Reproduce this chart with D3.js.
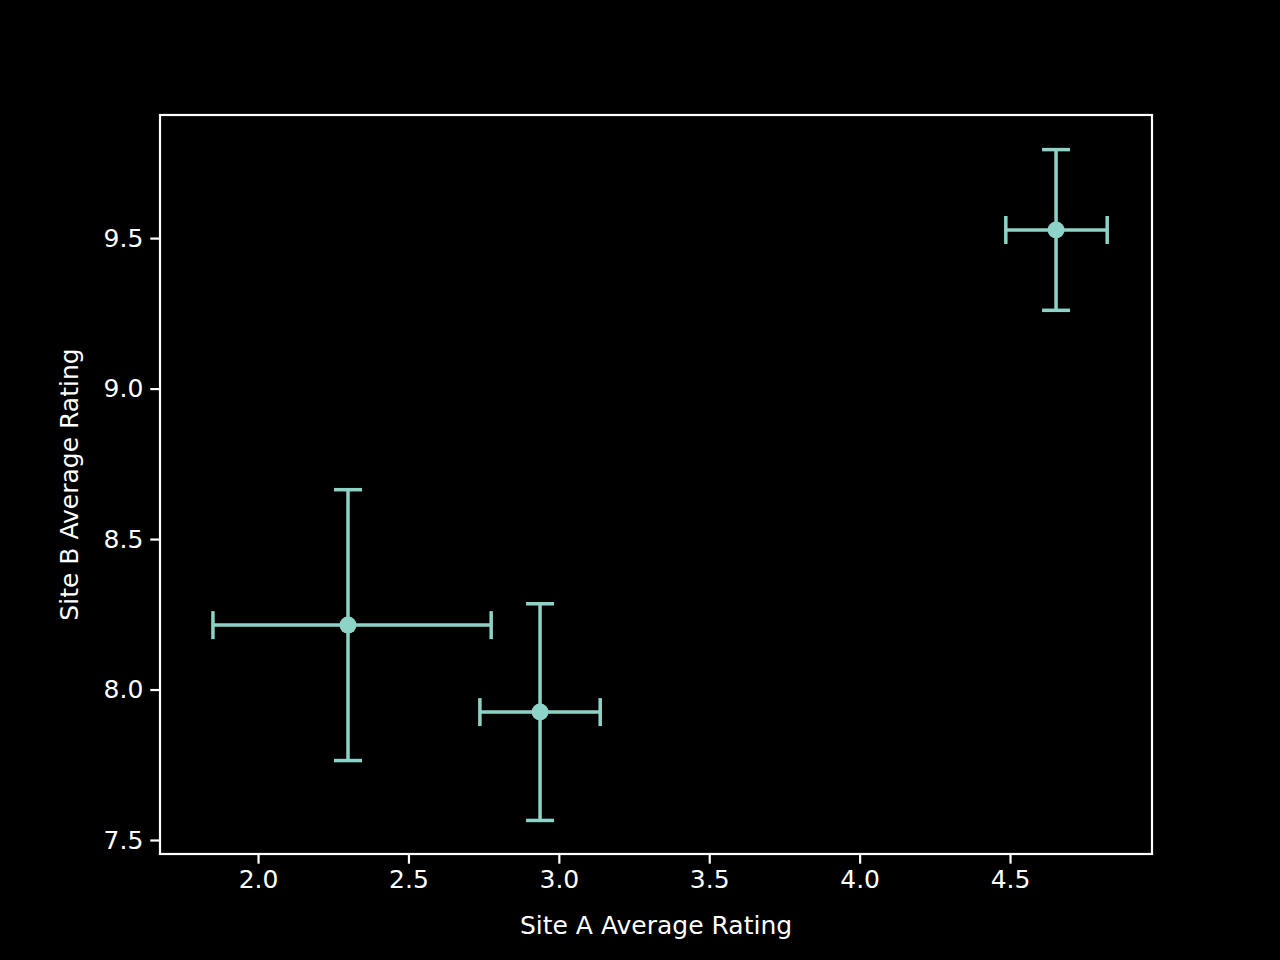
<!DOCTYPE html>
<html><head><meta charset="utf-8">
<script src="https://cdn.jsdelivr.net/npm/d3@7"></script>
<style>body{margin:0;background:#000}</style></head>
<body><svg id="c" width="1280" height="960"></svg>
<script>
const xVals=[2.299,2.9375,4.653];
const yVals=[8.214,7.925,9.527];
const xErrLo=[0.449,0.20,0.167];
const xErrHi=[0.476,0.20,0.170];
const yErr=[0.45,0.36,0.267];
const xTicks=[2.0,2.5,3.0,3.5,4.0,4.5];
const yTicks=[7.5,8.0,8.5,9.0,9.5];
const col="#8dd3c7", F="DejaVu Sans, sans-serif", fs=25;
const svg=d3.select("#c");
svg.append("rect").attr("width",1280).attr("height",960).attr("fill","#000");
const L=160,R=1152,T=115,B=854;
const x=d3.scaleLinear().domain([1.674,4.972]).range([L,R]);
const y=d3.scaleLinear().domain([7.4535,9.909]).range([B,T]);
const xa=svg.append("g").attr("transform",`translate(0,${B})`).call(d3.axisBottom(x).tickValues(xTicks).tickFormat(d3.format(".1f")).tickSize(9.7).tickPadding(7));
const ya=svg.append("g").attr("transform",`translate(${L},0)`).call(d3.axisLeft(y).tickValues(yTicks).tickFormat(d3.format(".1f")).tickSize(9.7).tickPadding(7));
[xa,ya].forEach(a=>{a.select(".domain").remove();a.selectAll("line").attr("stroke","#fff").attr("stroke-width",2.2);a.selectAll("text").attr("fill","#fff").attr("font-family",F).attr("font-size",fs);});
svg.append("rect").attr("x",L).attr("y",T).attr("width",R-L).attr("height",B-T).attr("fill","none").attr("stroke","#fff").attr("stroke-width",2.2);
svg.append("text").attr("x",(L+R)/2).attr("y",934).attr("text-anchor","middle").attr("fill","#fff").attr("font-family",F).attr("font-size",fs).text("Site A Average Rating");
svg.append("text").attr("transform",`translate(78,${(T+B)/2}) rotate(-90)`).attr("text-anchor","middle").attr("fill","#fff").attr("font-family",F).attr("font-size",fs).text("Site B Average Rating");
const g=svg.append("g").attr("stroke",col).attr("stroke-width",3.5);
const cap=14;
xVals.forEach((xv,i)=>{
  const cx=x(xv),cy=y(yVals[i]);
  const x0=x(xv-xErrLo[i]),x1=x(xv+xErrHi[i]),y0=y(yVals[i]-yErr[i]),y1=y(yVals[i]+yErr[i]);
  g.append("line").attr("x1",x0).attr("x2",x1).attr("y1",cy).attr("y2",cy);
  g.append("line").attr("x1",cx).attr("x2",cx).attr("y1",y0).attr("y2",y1);
  [x0,x1].forEach(v=>g.append("line").attr("x1",v).attr("x2",v).attr("y1",cy-cap).attr("y2",cy+cap));
  [y0,y1].forEach(v=>g.append("line").attr("y1",v).attr("y2",v).attr("x1",cx-cap).attr("x2",cx+cap));
  svg.append("circle").attr("cx",cx).attr("cy",cy).attr("r",8.5).attr("fill",col);
});
</script></body></html>
